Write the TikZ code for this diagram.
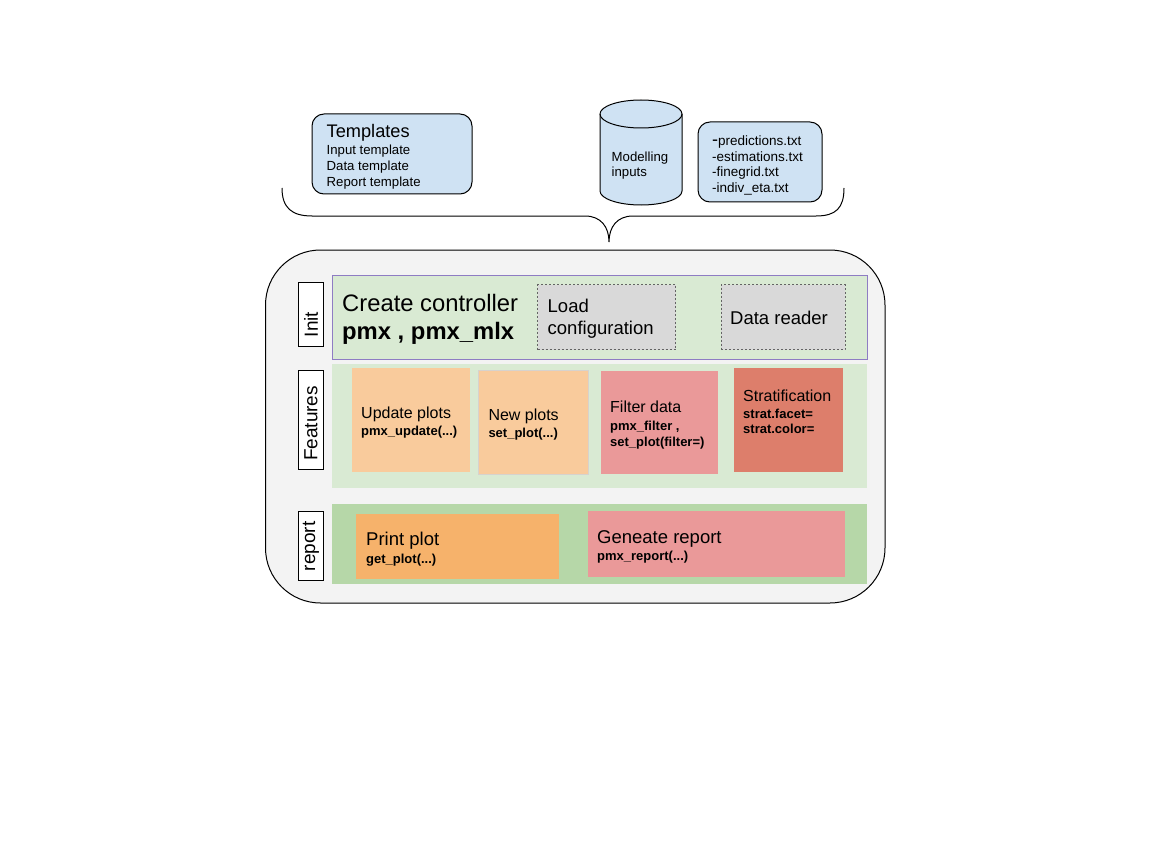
\documentclass[tikz,border=0pt]{standalone}
\usepackage{fontspec}
\setmainfont{Liberation Sans}
\definecolor{cblue}{HTML}{CFE2F3}
\definecolor{cgreen}{HTML}{D9EAD3}
\definecolor{cgreenD}{HTML}{B6D7A8}
\definecolor{cgrey}{HTML}{D9D9D9}
\definecolor{corangeL}{HTML}{F9CB9C}
\definecolor{corange}{HTML}{F6B26B}
\definecolor{credL}{HTML}{EA9999}
\definecolor{credD}{HTML}{DD7E6B}
\definecolor{cbg}{HTML}{F3F3F3}
\definecolor{clav}{HTML}{8E7CC3}
\newcommand\fsz[1]{\fontsize{#1}{#1}\selectfont}
\tikzset{
  box/.style={anchor=north west, inner sep=0pt, outer sep=0pt},
  rbox/.style={box, draw=black, line width=1pt, rounded corners=12pt, fill=cblue},
  dbox/.style={box, draw={rgb,255:red,100;green,100;blue,100}, dash pattern=on 2pt off 2pt, line width=0.8pt, fill=cgrey},
  lblbox/.style={box, draw=black, line width=1pt, fill=white, minimum width=25pt},
  lbltext/.style={rotate=90, inner sep=0pt, font=\fsz{19}},
  tx/.style={anchor=base west, inner sep=0pt},
}
\begin{document}
\begin{tikzpicture}[x=1pt,y=-1pt]
\useasboundingbox (0,0) rectangle (1152,864);
% top inputs
\node[rbox, minimum width=160pt, minimum height=80pt] (tpl) at (312,114) {};
\node[tx, font=\fsz{18.2}] (tplT) at (326.5,137.5) {Templates};
\node[tx, font=\fsz{13.2}] (tpl1) at (326.5,155) {Input template};
\node[tx, font=\fsz{13.2}] (tpl2) at (326.5,170.5) {Data template};
\node[tx, font=\fsz{13.2}] (tpl3) at (326.5,186.5) {Report template};
% cylinder
\draw[line width=1pt, fill=cblue] (600,114) -- (600,191) arc[start angle=180,end angle=0,x radius=41,y radius=14] -- (682,114) arc[start angle=0,end angle=-180,x radius=41,y radius=14] -- cycle;
\draw[line width=1pt] (600,114) arc[start angle=180,end angle=0,x radius=41,y radius=14];
\node[tx, font=\fsz{13.2}] (cyl1) at (611.5,162) {Modelling};
\node[tx, font=\fsz{13.2}] (cyl2) at (611.5,177) {inputs};
% files
\node[rbox, minimum width=124pt, minimum height=80pt] (files) at (698,122) {};
\node[tx, font=\fsz{13.5}] (f1) at (712,146) {{\fsz{18}-}predictions.txt};
\node[tx, font=\fsz{13.5}] (f2) at (712,161.5) {-estimations.txt};
\node[tx, font=\fsz{13.5}] (f3) at (712,177) {-finegrid.txt};
\node[tx, font=\fsz{13.5}] (f4) at (712,192.5) {-indiv\_eta.txt};
% brace
\draw[line width=1pt] (282,188) .. controls (282,208) and (292,216) .. (312,216) -- (585,216)
  .. controls (601,216) and (609,227) .. (609,242)
  .. controls (609,227) and (617,216) .. (633,216) -- (816,216)
  .. controls (836,216) and (844,208) .. (844,188);
% outer container
\draw[line width=1pt, fill=cbg, rounded corners=55pt] (265.5,250) rectangle (885,603);
% init row
\node[box, draw=clav, line width=0.8pt, fill=cgreen, minimum width=535pt, minimum height=84pt] (init) at (332,275.5) {};
\node[lblbox, minimum height=64pt] (initL) at (298.5,282) {};
\node[lbltext] (initT) at (311,324.5) {Init};
\node[tx, font=\fsz{23.8}] (cc1) at (342,311) {Create controller};
\node[tx, font=\bfseries\fsz{23.8}] (cc2) at (342,339) {pmx , pmx\_mlx};
\node[dbox, minimum width=138pt, minimum height=65pt] (load) at (537.5,284.5) {};
\node[tx, font=\fsz{18.5}] (load1) at (547.5,312.7) {Load};
\node[tx, font=\fsz{18.5}] (load2) at (547.5,334.3) {configuration};
\node[dbox, minimum width=124pt, minimum height=65pt] (reader) at (721,284.5) {};
\node[tx, font=\fsz{18.5}] (reader1) at (730,324) {Data reader};
% features row
\node[box, fill=cgreen, minimum width=535pt, minimum height=124pt] (feat) at (332,364) {};
\node[lblbox, minimum height=99pt] (featL) at (298.5,370) {};
\node[lbltext] (featT) at (311,423.5) {Features};
\node[box, fill=corangeL, minimum width=117.5pt, minimum height=103.5pt] (upd) at (352,368.2) {};
\node[tx, font=\fsz{16}] (upd1) at (361,418.3) {Update plots};
\node[tx, font=\bfseries\fsz{13}] (upd2) at (361,435.5) {pmx\_update(...)};
\node[box, fill=corangeL, draw={rgb,255:red,215;green,210;blue,205}, line width=1pt, minimum width=110pt, minimum height=104pt] (newp) at (478.5,370.5) {};
\node[tx, font=\fsz{16}] (newp1) at (488.3,420) {New plots};
\node[tx, font=\bfseries\fsz{13}] (newp2) at (488.3,437.7) {set\_plot(...)};
\node[box, fill=credL, minimum width=117pt, minimum height=103pt] (filt) at (601,371) {};
\node[tx, font=\fsz{16}] (filt1) at (610,412.5) {Filter data};
\node[tx, font=\bfseries\fsz{13}] (filt2) at (610,430) {pmx\_filter ,};
\node[tx, font=\bfseries\fsz{13}] (filt3) at (610,446) {set\_plot(filter=)};
\node[box, fill=credD, minimum width=109.3pt, minimum height=104pt] (strat) at (734,367.7) {};
\node[tx, font=\fsz{16}] (strat1) at (743,401.7) {Stratification};
\node[tx, font=\bfseries\fsz{13}] (strat2) at (743,418.3) {strat.facet=};
\node[tx, font=\bfseries\fsz{13}] (strat3) at (743,433) {strat.color=};
% report row
\node[box, fill=cgreenD, minimum width=535pt, minimum height=80pt] (rep) at (332,504) {};
\node[lblbox, minimum height=69pt] (repL) at (298.5,511) {};
\node[lbltext] (repT) at (311,546.5) {report};
\node[box, fill=corange, minimum width=203pt, minimum height=65pt] (print) at (356,514) {};
\node[tx, font=\fsz{18.5}] (print1) at (366,545.7) {Print plot};
\node[tx, font=\bfseries\fsz{13}] (print2) at (366,563.3) {get\_plot(...)};
\node[box, fill=credL, minimum width=257pt, minimum height=66pt] (gen) at (588,511) {};
\node[tx, font=\fsz{18.5}] (gen1) at (597,543) {Geneate report};
\node[tx, font=\bfseries\fsz{13}] (gen2) at (597,560) {pmx\_report(...)};
\end{tikzpicture}
\end{document}
